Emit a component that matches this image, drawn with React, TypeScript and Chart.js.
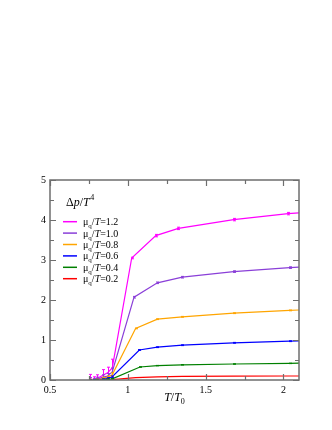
import React, { useEffect, useRef } from "react";
import { Chart, registerables } from "chart.js";

Chart.register(...registerables);

const muLabels = ["1.2", "1.0", "0.8", "0.6", "0.4", "0.2"];
const colors = ["#ff00ff", "#8a3fd8", "#ffa500", "#0000ff", "#008000", "#ff0000"];

const lowX = [0.76, 0.78, 0.8, 0.84, 0.87, 0.9];

const x12 = [...lowX, 1.025, 1.18, 1.325, 1.68, 2.03, 2.1];
const y12 = [0.02, 0.01, 0.03, 0.12, 0.18, 0.3, 3.05, 3.61, 3.79, 4.01, 4.16, 4.18];
const e12 = [0.12, 0.07, 0.1, 0.14, 0.14, 0.22, 0.02, 0.03, 0.03, 0.03, 0.03, 0];

const x10 = [...lowX, 1.04, 1.19, 1.35, 1.68, 2.04, 2.1];
const y10 = [0.01, 0.01, 0.02, 0.07, 0.1, 0.2, 2.07, 2.43, 2.57, 2.71, 2.81, 2.82];
const e10 = [0.05, 0.03, 0.05, 0.06, 0.06, 0.1, 0.02, 0.02, 0.02, 0.02, 0.02, 0];

const x08 = [...lowX, 1.05, 1.19, 1.35, 1.68, 2.04, 2.1];
const y08 = [0, 0, 0.01, 0.04, 0.07, 0.13, 1.29, 1.52, 1.58, 1.67, 1.74, 1.75];
const e08 = [0.02, 0.01, 0.02, 0.03, 0.03, 0.05, 0.01, 0.01, 0.01, 0.01, 0.01, 0];

const x06 = [...lowX, 1.074, 1.19, 1.35, 1.68, 2.04, 2.1];
const y06 = [0, 0, 0.01, 0.02, 0.04, 0.08, 0.75, 0.82, 0.87, 0.93, 0.97, 0.975];
const e06 = [0.01, 0.01, 0.01, 0.01, 0.02, 0.02, 0.01, 0.01, 0.01, 0.01, 0.01, 0];

const x04 = [...lowX, 1.078, 1.19, 1.35, 1.68, 2.04, 2.1];
const y04 = [0, 0, 0, 0.01, 0.02, 0.03, 0.325, 0.36, 0.38, 0.4, 0.415, 0.42];
const e04 = [0.005, 0.005, 0.005, 0.005, 0.01, 0.01, 0.005, 0.005, 0.005, 0.005, 0.005, 0];

const x02 = [...lowX, 1.05, 1.19, 1.35, 1.68, 2.04, 2.1];
const y02 = [0, 0, 0, 0, 0.005, 0.01, 0.06, 0.08, 0.09, 0.095, 0.1, 0.1];
const e02 = [0, 0, 0, 0, 0, 0, 0, 0, 0, 0, 0, 0];

const seriesX = [x12, x10, x08, x06, x04, x02];
const seriesY = [y12, y10, y08, y06, y04, y02];
const seriesE = [e12, e10, e08, e06, e04, e02];

const xTicks = [0.5, 1, 1.5, 2];
const xMinor = [0.75, 1.25, 1.75];
const yTicks = [0, 1, 2, 3, 4, 5];
const yMinor = [0.5, 1.5, 2.5, 3.5, 4.5];

const SERIF = '"Liberation Serif", "DejaVu Serif", serif';
const FRAME = "#6e6e6e";

const overlay = {
  id: "overlay",
  afterDatasetsDraw(chart: any) {
    const ctx = chart.ctx;
    const xs = chart.scales.x;
    const ys = chart.scales.y;
    const a = chart.chartArea;
    ctx.save();
    ctx.beginPath();
    ctx.rect(a.left, a.top, a.right - a.left, a.bottom - a.top);
    ctx.clip();
    chart.data.datasets.forEach((ds: any, i: number) => {
      ctx.strokeStyle = colors[i];
      ctx.lineWidth = 1;
      ds.data.forEach((p: any, j: number) => {
        const e = seriesE[i][j];
        if (!e) return;
        const px = Math.round(xs.getPixelForValue(p.x)) + 0.5;
        const y1 = ys.getPixelForValue(p.y - e);
        const y2 = ys.getPixelForValue(p.y + e);
        ctx.beginPath();
        ctx.moveTo(px, y1);
        ctx.lineTo(px, y2);
        ctx.moveTo(px - 1.5, y1);
        ctx.lineTo(px + 1.5, y1);
        ctx.moveTo(px - 1.5, y2);
        ctx.lineTo(px + 1.5, y2);
        ctx.stroke();
      });
    });
    ctx.restore();
  },
  afterDraw(chart: any) {
    const ctx = chart.ctx;
    const xs = chart.scales.x;
    const ys = chart.scales.y;
    const a = chart.chartArea;
    ctx.save();
    // frame
    ctx.strokeStyle = FRAME;
    ctx.lineWidth = 1.5;
    ctx.strokeRect(a.left, a.top, a.right - a.left, a.bottom - a.top);
    // ticks
    ctx.lineWidth = 1.2;
    ctx.beginPath();
    const xt = (v: number, len: number) => {
      const px = Math.round(xs.getPixelForValue(v)) + 0.5;
      ctx.moveTo(px, a.bottom);
      ctx.lineTo(px, a.bottom - len);
      ctx.moveTo(px, a.top);
      ctx.lineTo(px, a.top + len);
    };
    const yt = (v: number, len: number) => {
      const py = Math.round(ys.getPixelForValue(v)) + 0.5;
      ctx.moveTo(a.left, py);
      ctx.lineTo(a.left + len, py);
      ctx.moveTo(a.right, py);
      ctx.lineTo(a.right - len, py);
    };
    xTicks.forEach((v) => xt(v, 6));
    xMinor.forEach((v) => xt(v, 4));
    yTicks.forEach((v) => yt(v, 6));
    yMinor.forEach((v) => yt(v, 4));
    ctx.stroke();

    ctx.fillStyle = "#000";
    ctx.textBaseline = "alphabetic";
    ctx.textAlign = "left";
    // panel title Δp/T^4
    let tx = 66;
    const tb = 206;
    ctx.font = `12px ${SERIF}`;
    ctx.fillText("Δ", tx, tb);
    tx += ctx.measureText("Δ").width;
    ctx.font = `italic 12px ${SERIF}`;
    ctx.fillText("p", tx, tb);
    tx += ctx.measureText("p").width;
    ctx.font = `12px ${SERIF}`;
    ctx.fillText("/", tx, tb);
    tx += ctx.measureText("/").width;
    ctx.font = `italic 12px ${SERIF}`;
    ctx.fillText("T", tx, tb);
    tx += ctx.measureText("T").width + 0.5;
    ctx.font = `8px ${SERIF}`;
    ctx.fillText("4", tx, tb - 6);

    // legend
    muLabels.forEach((lab, i) => {
      const cy = 221.7 + i * 11.4;
      ctx.strokeStyle = colors[i];
      ctx.lineWidth = 1.5;
      ctx.beginPath();
      ctx.moveTo(63, cy);
      ctx.lineTo(77, cy);
      ctx.stroke();
      let lx = 83;
      const lb = cy + 3.5;
      ctx.font = `10px ${SERIF}`;
      ctx.fillText("μ", lx, lb);
      lx += ctx.measureText("μ").width;
      ctx.font = `7px ${SERIF}`;
      ctx.fillText("q", lx, lb + 3);
      lx += ctx.measureText("q").width;
      ctx.font = `10px ${SERIF}`;
      ctx.fillText("/", lx, lb);
      lx += ctx.measureText("/").width;
      ctx.font = `italic 10px ${SERIF}`;
      ctx.fillText("T", lx, lb);
      lx += ctx.measureText("T").width;
      ctx.font = `10px ${SERIF}`;
      ctx.fillText("=" + lab, lx, lb);
    });

    // x axis title T/T0
    ctx.font = `italic 12px ${SERIF}`;
    const w1 = ctx.measureText("T").width;
    ctx.font = `12px ${SERIF}`;
    const w2 = ctx.measureText("/").width;
    ctx.font = `8px ${SERIF}`;
    const w3 = ctx.measureText("0").width;
    const total = w1 * 2 + w2 + w3;
    let ax = (a.left + a.right) / 2 - total / 2;
    const ab = 401;
    ctx.font = `italic 12px ${SERIF}`;
    ctx.fillText("T", ax, ab);
    ax += w1;
    ctx.font = `12px ${SERIF}`;
    ctx.fillText("/", ax, ab);
    ax += w2;
    ctx.font = `italic 12px ${SERIF}`;
    ctx.fillText("T", ax, ab);
    ax += w1;
    ctx.font = `8px ${SERIF}`;
    ctx.fillText("0", ax, ab + 3);
    ctx.restore();
  },
};

export default function App() {
  const ref = useRef<HTMLCanvasElement | null>(null);
  useEffect(() => {
    if (!ref.current) return;
    const chart = new Chart(ref.current, {
      type: "line",
      data: {
        datasets: seriesX.map((xs, i) => ({
          label: "mu/T=" + muLabels[i],
          data: xs.map((x, j) => ({ x, y: seriesY[i][j] })),
          borderColor: colors[i],
          backgroundColor: colors[i],
          borderWidth: 1.2,
          pointRadius: 0,
          tension: 0,
        })),
      },
      options: {
        responsive: false,
        animation: false,
        events: [],
        layout: { padding: { left: 30, right: 33, top: 180, bottom: 30 } },
        plugins: { legend: { display: false }, tooltip: { enabled: false } },
        scales: {
          x: {
            type: "linear",
            min: 0.5,
            max: 2.1,
            border: { display: false },
            grid: { display: false, drawTicks: false },
            afterBuildTicks: (s: any) => {
              s.ticks = xTicks.map((v) => ({ value: v }));
            },
            afterFit: (s: any) => {
              s.height = 20;
            },
            ticks: {
              padding: 4,
              color: "#000",
              font: { family: SERIF, size: 10 },
              callback: (v: any) => String(v),
              maxRotation: 0,
              autoSkip: false,
            },
          },
          y: {
            type: "linear",
            min: 0,
            max: 5,
            border: { display: false },
            grid: { display: false, drawTicks: false },
            afterBuildTicks: (s: any) => {
              s.ticks = yTicks.map((v) => ({ value: v }));
            },
            afterFit: (s: any) => {
              s.width = 20;
            },
            ticks: {
              padding: 4,
              color: "#000",
              font: { family: SERIF, size: 10 },
              callback: (v: any) => String(v),
            },
          },
        },
      },
      plugins: [overlay],
    });
    return () => chart.destroy();
  }, []);
  return (
    <div style={{ position: "fixed", left: 0, top: 0, width: 332, height: 430, background: "#fff" }}>
      <canvas ref={ref} width={332} height={430} style={{ display: "block" }} />
    </div>
  );
}
